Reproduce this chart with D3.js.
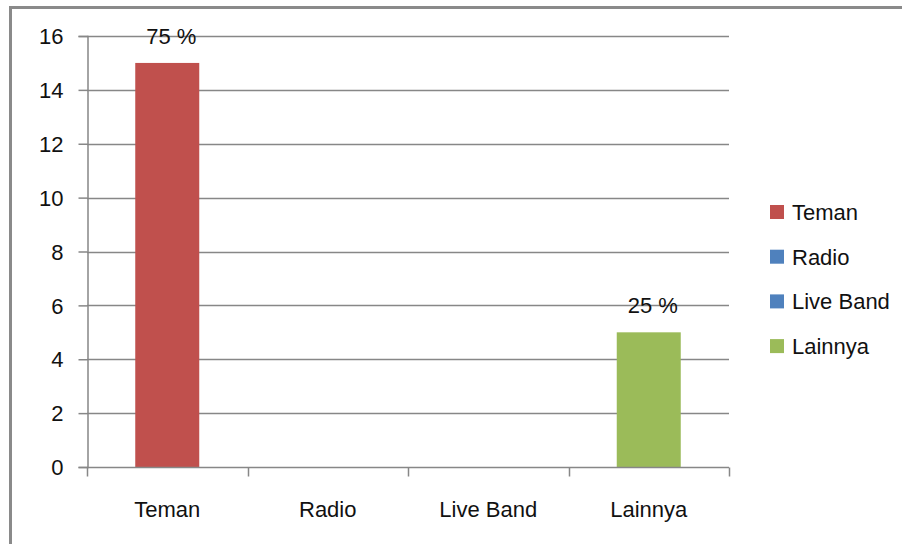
<!DOCTYPE html>
<html>
<head>
<meta charset="utf-8">
<script src="https://cdn.jsdelivr.net/npm/d3@7"></script>
<style>
  html, body { margin: 0; padding: 0; background: #fff; }
  svg { display: block; }
  text { font-family: "Liberation Sans", Arial, sans-serif; fill: #111; }
</style>
</head>
<body>
<svg id="chart" width="902" height="544"></svg>
<script>
// Sources of information, count of respondents
const categories = ["Teman", "Radio", "Live Band", "Lainnya"];
const values = [15, 0, 0, 5];
const valueLabels = ["75 %", null, null, "25 %"];
const colors = ["#C0504D", "#4F81BD", "#4F81BD", "#9BBB59"];
const yTicks = [0, 2, 4, 6, 8, 10, 12, 14, 16];

const svg = d3.select("#chart");
const W = 902, H = 544;
const m = { left: 87, right: 173, top: 36, bottom: 77 };
const plotW = W - m.left - m.right;   // 642
const plotH = H - m.top - m.bottom;   // 431
const fs = 22;

// Frame around the chart area
svg.append("path")
  .attr("d", `M10.5,${H} L10.5,7.5 L${W},7.5`)
  .attr("fill", "none")
  .attr("stroke", "#8a8a8a")
  .attr("stroke-width", 3);

const g = svg.append("g").attr("transform", `translate(${m.left},${m.top})`);

const x = d3.scaleBand().domain(categories).range([0, plotW]).paddingInner(0).paddingOuter(0);
const y = d3.scaleLinear().domain([0, 16]).range([plotH, 0]);

// Horizontal gridlines
g.append("g")
  .selectAll("line")
  .data(yTicks.filter(d => d > 0))
  .join("line")
  .attr("x1", 0).attr("x2", plotW)
  .attr("y1", d => Math.round(y(d)) + 0.5).attr("y2", d => Math.round(y(d)) + 0.5)
  .attr("stroke", "#878787").attr("stroke-width", 1.5);

// Y axis
const yAxis = g.append("g")
  .attr("transform", "translate(0.5,0)")
  .call(d3.axisLeft(y).tickValues(yTicks).tickSize(9).tickPadding(15).tickFormat(d3.format("d")));
yAxis.select(".domain").attr("stroke", "#878787").attr("stroke-width", 1.5);
yAxis.selectAll(".tick line").attr("stroke", "#878787").attr("stroke-width", 1.5);
yAxis.selectAll(".tick text")
  .attr("font-size", fs).attr("font-family", "Liberation Sans, Arial, sans-serif")
  .attr("fill", "#111").attr("dy", "0.35em");

// Bars
g.append("g")
  .selectAll("rect")
  .data(categories)
  .join("rect")
  .attr("x", d => x(d) + x.bandwidth() / 2 - 32)
  .attr("width", 64)
  .attr("y", (d, i) => y(values[i]))
  .attr("height", (d, i) => plotH - y(values[i]))
  .attr("fill", (d, i) => colors[i]);

// X axis (category boundaries ticks)
const boundaries = d3.range(categories.length + 1).map(i => i * x.step());
const xg = g.append("g").attr("transform", `translate(0,${plotH + 0.5})`);
xg.append("line").attr("x1", 0).attr("x2", plotW)
  .attr("stroke", "#878787").attr("stroke-width", 1.5);
xg.selectAll("line.tk")
  .data(boundaries)
  .join("line")
  .attr("class", "tk")
  .attr("x1", d => Math.round(d) + 0.5).attr("x2", d => Math.round(d) + 0.5)
  .attr("y1", 0).attr("y2", 9)
  .attr("stroke", "#878787").attr("stroke-width", 1.5);
xg.selectAll("text")
  .data(categories)
  .join("text")
  .attr("x", d => x(d) + x.bandwidth() / 2)
  .attr("y", 49)
  .attr("text-anchor", "middle")
  .attr("font-size", fs)
  .text(d => d);

// Value labels above bars
g.append("g")
  .selectAll("text")
  .data(categories.filter((d, i) => valueLabels[i]))
  .join("text")
  .attr("x", d => x(d) + x.bandwidth() / 2 + 4)
  .attr("y", d => y(values[categories.indexOf(d)]) - 19)
  .attr("text-anchor", "middle")
  .attr("font-size", fs)
  .text(d => valueLabels[categories.indexOf(d)]);

// Legend
const legend = svg.append("g").attr("transform", "translate(770,205)");
const item = legend.selectAll("g")
  .data(categories)
  .join("g")
  .attr("transform", (d, i) => `translate(0,${i * 44.7})`);
item.append("rect").attr("width", 14).attr("height", 14).attr("fill", (d, i) => colors[i]);
item.append("text").attr("x", 22).attr("y", 7).attr("dy", "0.36em")
  .attr("font-size", fs).text(d => d);
</script>
</body>
</html>
